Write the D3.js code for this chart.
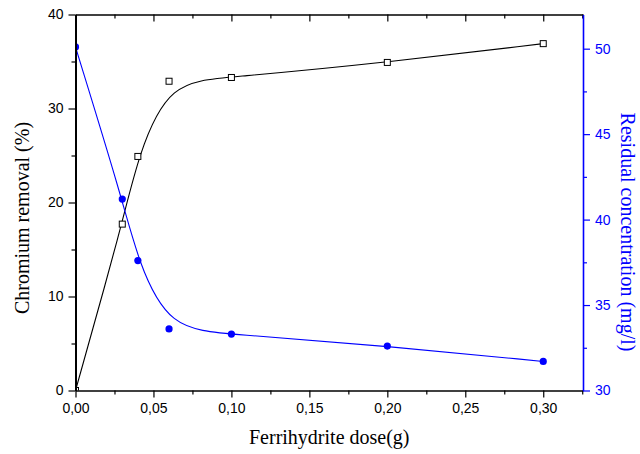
<!DOCTYPE html>
<html>
<head>
<meta charset="utf-8">
<script src="https://cdn.jsdelivr.net/npm/d3@7"></script>
<style>
  html, body { margin: 0; padding: 0; background: #fff; }
  svg { display: block; }
</style>
</head>
<body>
<svg id="chart" width="640" height="454"></svg>
<script>
// Ferrihydrite dose (g)
const dose = [0, 0.03, 0.04, 0.06, 0.10, 0.20, 0.30];
// Chromium removal (%)
const removal = [0, 17.7, 24.9, 32.9, 33.3, 34.9, 36.9];
// Residual concentration (mg/l)
const residual = [50.1, 41.2, 37.6, 33.6, 33.3, 32.6, 31.7];

const xTicks = [0, 0.05, 0.10, 0.15, 0.20, 0.25, 0.30];
const xMinorTicks = [0.025, 0.075, 0.125, 0.175, 0.225, 0.275, 0.325];
const leftTicks = [0, 10, 20, 30, 40];
const leftMinorTicks = [5, 15, 25, 35];
const rightTicks = [30, 35, 40, 45, 50];
const rightMinorTicks = [32.5, 37.5, 42.5, 47.5];

const xLabel = "Ferrihydrite dose(g)";
const leftLabel = "Chromium removal (%)";
const rightLabel = "Residual concentration (mg/l)";

const BLUE = "#0000ff";
const plot = { left: 75.5, right: 583, top: 14.5, bottom: 390.5 };

const svg = d3.select("#chart");

const x = d3.scaleLinear().domain([0, 0.3255]).range([plot.left, plot.right]);
const yL = d3.scaleLinear().domain([0, 40]).range([plot.bottom, plot.top]);
const yR = d3.scaleLinear().domain([30, 52]).range([plot.bottom, plot.top]);

const comma = d3.formatLocale({ decimal: ",", thousands: ".", grouping: [3], currency: ["", ""] });
const fmtX = comma.format(".2f");

svg.append("defs").append("clipPath").attr("id", "plotClip")
  .append("rect")
  .attr("x", plot.left).attr("y", plot.top)
  .attr("width", plot.right - plot.left).attr("height", plot.bottom - plot.top);

const marks = svg.append("g").attr("clip-path", "url(#plotClip)");

const removalPts = dose.map((d, i) => [d, removal[i]]);
const residualPts = dose.map((d, i) => [d, residual[i]]);

// smoothed connecting curves
marks.append("path")
  .datum(removalPts)
  .attr("fill", "none").attr("stroke", "#000").attr("stroke-width", 1.1)
  .attr("d", d3.line().curve(d3.curveBasis).x(d => x(d[0])).y(d => yL(d[1])));

marks.append("path")
  .datum(residualPts)
  .attr("fill", "none").attr("stroke", BLUE).attr("stroke-width", 1.1)
  .attr("d", d3.line().curve(d3.curveBasis).x(d => x(d[0])).y(d => yR(d[1])));

// open squares for removal
marks.selectAll("rect.sq").data(removalPts).join("rect")
  .attr("class", "sq")
  .attr("x", d => x(d[0]) - 3).attr("y", d => yL(d[1]) - 3)
  .attr("width", 6).attr("height", 6)
  .attr("fill", "#fff").attr("stroke", "#000").attr("stroke-width", 1);

// filled circles for residual concentration
marks.selectAll("circle.dot").data(residualPts).join("circle")
  .attr("class", "dot")
  .attr("cx", d => x(d[0])).attr("cy", d => yR(d[1])).attr("r", 3.6)
  .attr("fill", BLUE);

const tickFont = "'Liberation Sans', Arial, sans-serif";

function styleAxis(g, color, width) {
  g.select(".domain").attr("stroke", color).attr("stroke-width", width);
  g.selectAll(".tick line").attr("stroke", color).attr("stroke-width", 1.2);
  g.selectAll(".tick text").attr("fill", color)
    .style("font-family", tickFont).style("font-size", "14px");
}

// bottom axis
const gB = svg.append("g").attr("transform", `translate(0,${plot.bottom})`)
  .call(d3.axisBottom(x).tickValues(xTicks).tickFormat(fmtX).tickSizeOuter(0).tickSizeInner(7).tickPadding(6));
styleAxis(gB, "#000", 1.6);
svg.append("g").attr("transform", `translate(0,${plot.bottom})`)
  .call(d3.axisBottom(x).tickValues(xMinorTicks).tickFormat("").tickSizeOuter(0).tickSizeInner(4))
  .call(g => { g.select(".domain").remove(); g.selectAll(".tick line").attr("stroke", "#000").attr("stroke-width", 1.2); });

// top frame with inward ticks
const gT = svg.append("g").attr("transform", `translate(0,${plot.top})`)
  .call(d3.axisTop(x).tickValues(xTicks).tickFormat("").tickSizeOuter(0).tickSizeInner(-7));
styleAxis(gT, "#000", 1.4);
svg.append("g").attr("transform", `translate(0,${plot.top})`)
  .call(d3.axisTop(x).tickValues(xMinorTicks).tickFormat("").tickSizeOuter(0).tickSizeInner(-4))
  .call(g => { g.select(".domain").remove(); g.selectAll(".tick line").attr("stroke", "#000").attr("stroke-width", 1.2); });

// left axis
const gL = svg.append("g").attr("transform", `translate(${plot.left},0)`)
  .call(d3.axisLeft(yL).tickValues(leftTicks).tickFormat(d3.format("d")).tickSizeOuter(0).tickSizeInner(7).tickPadding(5));
styleAxis(gL, "#000", 2);
svg.append("g").attr("transform", `translate(${plot.left},0)`)
  .call(d3.axisLeft(yL).tickValues(leftMinorTicks).tickFormat("").tickSizeOuter(0).tickSizeInner(4))
  .call(g => { g.select(".domain").remove(); g.selectAll(".tick line").attr("stroke", "#000").attr("stroke-width", 1.2); });

// right axis (blue)
const gR = svg.append("g").attr("transform", `translate(${plot.right},0)`)
  .call(d3.axisRight(yR).tickValues(rightTicks).tickFormat(d3.format("d")).tickSizeOuter(0).tickSizeInner(7).tickPadding(5));
styleAxis(gR, BLUE, 1.6);
svg.append("g").attr("transform", `translate(${plot.right},0)`)
  .call(d3.axisRight(yR).tickValues(rightMinorTicks).tickFormat("").tickSizeOuter(0).tickSizeInner(4))
  .call(g => { g.select(".domain").remove(); g.selectAll(".tick line").attr("stroke", BLUE).attr("stroke-width", 1.2); });

const labelFont = "'Liberation Serif', 'Times New Roman', serif";

svg.append("text")
  .attr("x", (plot.left + plot.right) / 2).attr("y", 444)
  .attr("text-anchor", "middle")
  .style("font-family", labelFont).style("font-size", "20px")
  .text(xLabel);

svg.append("text")
  .attr("transform", "translate(29,218) rotate(-90)")
  .attr("text-anchor", "middle")
  .style("font-family", labelFont).style("font-size", "20px")
  .text(leftLabel);

svg.append("text")
  .attr("transform", "translate(621,232) rotate(90)")
  .attr("text-anchor", "middle")
  .attr("fill", BLUE)
  .style("font-family", labelFont).style("font-size", "20px")
  .text(rightLabel);
</script>
</body>
</html>
